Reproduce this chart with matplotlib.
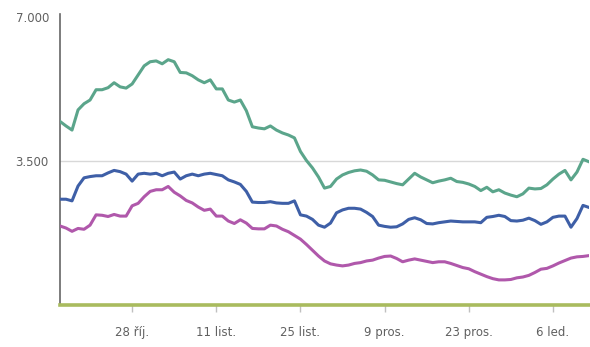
import numpy as np
import pandas as pd
import matplotlib
matplotlib.use('Agg')
import matplotlib.pyplot as plt

# daily values, 16 Oct - 12 Jan
days = pd.date_range('2013-10-16', periods=89, freq='D')

green = [4460, 4350, 4250, 4740, 4890, 4980, 5230, 5230, 5280, 5400,
         5300, 5270, 5370, 5590, 5810, 5910, 5930, 5860, 5960, 5910,
         5650, 5640, 5570, 5470, 5400, 5470, 5250, 5250, 4980, 4930,
         4980, 4720, 4330, 4300, 4280, 4350, 4250, 4180, 4130, 4060,
         3730, 3510, 3330, 3110, 2840, 2880, 3060, 3160, 3220, 3260,
         3280, 3250, 3160, 3040, 3030, 2990, 2950, 2920, 3060, 3200,
         3110, 3040, 2970, 3010, 3040, 3080, 3000, 2980, 2940, 2880,
         2780, 2860, 2750, 2800, 2720, 2670, 2630, 2700, 2840, 2820,
         2830, 2920, 3060, 3180, 3270, 3040, 3230, 3540, 3480]

blue = [2570, 2570, 2530, 2890, 3090, 3120, 3140, 3140, 3210, 3270,
        3240, 3180, 3010, 3180, 3200, 3180, 3200, 3140, 3200, 3230,
        3060, 3140, 3180, 3140, 3180, 3200, 3170, 3140, 3040, 2990,
        2930, 2760, 2500, 2490, 2490, 2510, 2480, 2470, 2470, 2530,
        2190, 2160, 2080, 1940, 1890, 1990, 2240, 2310, 2350, 2350,
        2330, 2250, 2150, 1940, 1910, 1890, 1900, 1970, 2080, 2120,
        2070, 1980, 1970, 2000, 2020, 2040, 2030, 2020, 2020, 2020,
        2000, 2130, 2150, 2180, 2150, 2050, 2040, 2060, 2110, 2050,
        1960, 2020, 2130, 2160, 2160, 1890, 2100, 2420, 2370]

pink = [1920, 1870, 1790, 1860, 1840, 1940, 2190, 2180, 2150, 2200,
        2160, 2160, 2410, 2470, 2630, 2760, 2800, 2800, 2880, 2740,
        2650, 2540, 2480, 2380, 2300, 2330, 2160, 2160, 2040, 1980,
        2070, 1990, 1860, 1850, 1850, 1940, 1920, 1840, 1780, 1690,
        1600, 1470, 1330, 1190, 1070, 1000, 970, 950, 970, 1010,
        1030, 1070, 1090, 1140, 1180, 1190, 1130, 1050, 1090, 1120,
        1090, 1060, 1030, 1050, 1050, 1010, 960, 910, 880, 810,
        750, 690, 640, 610, 610, 620, 660, 680, 720, 790,
        870, 890, 950, 1020, 1080, 1140, 1170, 1180, 1200]

olive = [0] * 89

tick_days = ['2013-10-28', '2013-11-11', '2013-11-25', '2013-12-09', '2013-12-23', '2014-01-06']
tick_labels = ['28 říj.', '11 list.', '25 list.', '9 pros.', '23 pros.', '6 led.']
y_ticks = [3500, 7000]
y_labels = ['3.500', '7.000']

fig = plt.figure(figsize=(5.9, 3.47), dpi=100)
ax = fig.add_axes([60/590, 42/347, 529/590, 291/347])

ax.axhline(3500, color='#d8d8d8', linewidth=1, zorder=1)
ax.plot(days, green, color='#5ba58b', linewidth=2.2, zorder=3)
ax.plot(days, blue, color='#3e5fa7', linewidth=2.2, zorder=3)
ax.plot(days, pink, color='#b058ab', linewidth=2.2, zorder=3)
ax.plot(days, olive, color='#a9bb5e', linewidth=2.6, zorder=4, clip_on=False)

ax.set_xlim(days[0], days[-1])
ax.set_ylim(0, 7070)

ax.set_yticks(y_ticks)
ax.set_yticklabels(y_labels, color='#606060', fontsize=8.5)
ax.tick_params(axis='y', length=0, pad=8)

ax.set_xticks(pd.to_datetime(tick_days))
ax.set_xticklabels(tick_labels, color='#606060', fontsize=8.5)
ax.tick_params(axis='x', length=5, color='#c0c0c0', width=1, pad=10)

for s in ['top', 'right', 'bottom']:
    ax.spines[s].set_visible(False)
ax.spines['left'].set_color('#666666')
ax.spines['left'].set_linewidth(1.2)

fig.savefig('out.png', dpi=100)
